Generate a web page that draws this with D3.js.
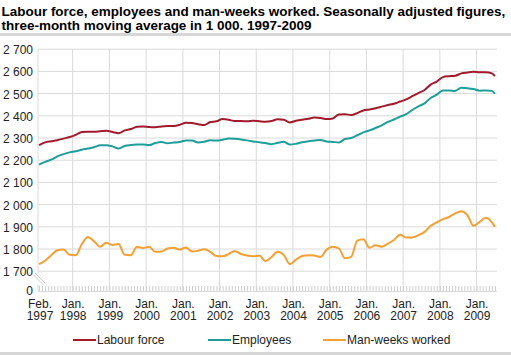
<!DOCTYPE html>
<html>
<head>
<meta charset="utf-8">
<script src="https://cdn.jsdelivr.net/npm/d3@7"></script>
<style>
  html, body { margin: 0; padding: 0; background: #fff; }
  svg, svg text { font-family: Arial, "Liberation Sans", Helvetica, sans-serif; }
  svg { display: block; }
</style>
</head>
<body>
<svg id="chart" width="511" height="355"></svg>
<script>
// ---------- DATA ----------
const titleLines = [
  "Labour force, employees and man-weeks worked. Seasonally adjusted figures,",
  "three-month moving average in 1 000. 1997-2009"
];
const months = [
  "1997-02","1997-04","1997-06","1997-08","1997-10","1997-12",
  "1998-02","1998-04","1998-06","1998-08","1998-10","1998-12",
  "1999-02","1999-04","1999-06","1999-08","1999-10","1999-12",
  "2000-02","2000-04","2000-06","2000-08","2000-10","2000-12",
  "2001-02","2001-04","2001-06","2001-08","2001-10","2001-12",
  "2002-02","2002-04","2002-06","2002-08","2002-10","2002-12",
  "2003-02","2003-04","2003-06","2003-08","2003-10","2003-12",
  "2004-02","2004-04","2004-06","2004-08","2004-10","2004-12",
  "2005-02","2005-04","2005-06","2005-08","2005-10","2005-12",
  "2006-02","2006-04","2006-06","2006-08","2006-10","2006-12",
  "2007-02","2007-04","2007-06","2007-08","2007-10","2007-12",
  "2008-02","2008-04","2008-06","2008-08","2008-10","2008-12",
  "2009-02","2009-04","2009-06","2009-07"
];
const labourForce = [
  2266,2278,2283,2288,2295,2302,
  2312,2325,2326,2326,2328,2330,
  2325,2319,2332,2338,2348,2350,
  2347,2346,2350,2352,2352,2357,
  2366,2365,2360,2356,2370,2373,
  2383,2380,2374,2374,2373,2375,
  2373,2371,2374,2382,2380,2368,
  2375,2380,2384,2390,2388,2383,
  2386,2404,2405,2401,2410,2422,
  2426,2432,2439,2446,2452,2462,
  2472,2486,2500,2514,2538,2552,
  2572,2576,2578,2589,2593,2596,
  2594,2594,2589,2576
];
const employees = [
  2178,2190,2200,2215,2225,2233,
  2238,2245,2250,2256,2265,2265,
  2260,2251,2262,2266,2268,2268,
  2266,2275,2280,2274,2277,2280,
  2287,2286,2278,2281,2288,2286,
  2290,2296,2294,2291,2287,2282,
  2279,2275,2270,2276,2281,2268,
  2272,2279,2283,2286,2289,2282,
  2280,2278,2293,2298,2310,2323,
  2332,2343,2355,2370,2381,2394,
  2405,2424,2440,2454,2478,2493,
  2512,2512,2510,2524,2522,2518,
  2511,2512,2510,2497
];
const manWeeks = [
  1730,1745,1770,1792,1796,1772,
  1770,1820,1852,1832,1808,1826,
  1816,1820,1772,1770,1808,1802,
  1808,1785,1786,1800,1803,1795,
  1805,1786,1790,1797,1785,1766,
  1765,1775,1789,1775,1768,1765,
  1768,1743,1762,1785,1770,1729,
  1750,1766,1770,1768,1762,1795,
  1808,1800,1756,1762,1835,1842,
  1803,1815,1808,1822,1838,1862,
  1850,1850,1860,1875,1902,1918,
  1932,1942,1958,1968,1950,1902,
  1920,1938,1918,1898
];
const seriesNames = ["Labour force", "Employees", "Man-weeks worked"];
const seriesColors = ["#a21a2c", "#1e9e98", "#f5a033"];
const yTicks = [1700,1800,1900,2000,2100,2200,2300,2400,2500,2600,2700];
const xTickMonths = ["1997-02","1998-01","1999-01","2000-01","2001-01","2002-01","2003-01","2004-01","2005-01","2006-01","2007-01","2008-01","2009-01"];
const xTickLabels = [["Feb.","1997"],["Jan.","1998"],["Jan.","1999"],["Jan.","2000"],["Jan.","2001"],["Jan.","2002"],["Jan.","2003"],["Jan.","2004"],["Jan.","2005"],["Jan.","2006"],["Jan.","2007"],["Jan.","2008"],["Jan.","2009"]];

// ---------- LAYOUT ----------
const FONT = "Arial, 'Liberation Sans', Helvetica, sans-serif";
const svg = d3.select("#chart");
const plotLeft = 38, plotRight = 497, plotTop = 48.7, yBottomVal = 270.7, zeroY = 291;
const monthIndex = s => { const [yy, mm] = s.split("-").map(Number); return (yy - 1997) * 12 + (mm - 2); };

const x = d3.scaleLinear().domain([0, 149]).range([39, 39 + 149 * 3.06]);
const y = d3.scaleLinear().domain([1700, 2700]).range([yBottomVal, plotTop]);
const loc = d3.formatLocale({decimal: ",", thousands: " ", grouping: [3], currency: ["", ""]});
const fmt = loc.format(",");

// Title (fit first line to the reference width)
const title = svg.append("text").attr("x", 1.5).attr("fill", "#000").attr("font-family", FONT)
  .style("font-size", "14px").style("font-weight", "bold");
const tsp = titleLines.map((t, i) => title.append("tspan").attr("x", 1.5).attr("y", 15.5 + i * 14.5).text(t));
const w0 = tsp[0].node().getComputedTextLength();
if (w0 > 0) title.style("font-size", Math.min(14, 14 * 504 / w0).toFixed(2) + "px");
svg.append("rect").attr("x", 0).attr("y", 33).attr("width", 511).attr("height", 3).attr("fill", "#d6d6d6");
svg.append("rect").attr("x", 0).attr("y", 352).attr("width", 511).attr("height", 3).attr("fill", "#d6d6d6");

// Y gridlines + labels
const yAxis = d3.axisLeft(y).tickValues(yTicks).tickSize(-(plotRight - plotLeft)).tickPadding(5).tickFormat(fmt);
const gy = svg.append("g").attr("transform", `translate(${plotLeft},0)`).call(yAxis);
gy.attr("font-family", FONT);
gy.select(".domain").remove();
gy.selectAll(".tick line").attr("stroke", "#dadada").attr("stroke-width", 1);
gy.selectAll(".tick text").attr("fill", "#222").attr("dy", "0.42em").style("font-size", "12px");

// vertical gridlines at year ticks
const jan = xTickMonths.slice(1).map(monthIndex);
svg.append("g").selectAll("line").data(jan).join("line")
  .attr("x1", d => x(d)).attr("x2", d => x(d))
  .attr("y1", plotTop).attr("y2", zeroY)
  .attr("stroke", "#dadada").attr("stroke-width", 1);

// Y axis line with break
svg.append("line").attr("x1", plotLeft).attr("x2", plotLeft).attr("y1", plotTop).attr("y2", 273.5).attr("stroke", "#dadada");
svg.append("line").attr("x1", plotLeft).attr("x2", plotLeft).attr("y1", 284.5).attr("y2", zeroY).attr("stroke", "#dadada");
svg.append("line").attr("x1", 33).attr("y1", 274.5).attr("x2", 43).attr("y2", 284.5).attr("stroke", "#cfcfcf");
svg.append("line").attr("x1", 35).attr("y1", 273).attr("x2", 45).attr("y2", 283).attr("stroke", "#cfcfcf");
svg.append("text").attr("x", 33).attr("y", zeroY + 3.5).attr("text-anchor", "end").attr("fill", "#222")
  .attr("font-family", FONT).style("font-size", "12px").text("0");

// X axis: monthly minor ticks
const allMonths = d3.range(0, 150);
const xAxis = d3.axisBottom(x).tickValues(allMonths).tickSize(-5).tickFormat("");
const gx = svg.append("g").attr("transform", `translate(0,${zeroY})`).call(xAxis);
gx.select(".domain").attr("d", `M${plotLeft},0.5H${plotRight}`).attr("stroke", "#dadada");
gx.selectAll(".tick line").attr("stroke", "#cfcfcf");

// X labels
const xl = svg.append("g").selectAll("text").data(xTickMonths).join("text")
  .attr("text-anchor", "middle").attr("fill", "#222").attr("font-family", FONT).style("font-size", "12px");
xl.each(function(d, i) {
  const t = d3.select(this);
  const xp = x(monthIndex(d)) + (i === 0 ? 1 : 0.5);
  t.append("tspan").attr("x", xp).attr("y", 307.5).text(xTickLabels[i][0]);
  t.append("tspan").attr("x", xp).attr("y", 320).text(xTickLabels[i][1]);
});

// Lines
const allSeries = [labourForce, employees, manWeeks];
const line = d3.line().x((d, i) => x(monthIndex(months[i]))).y(d => y(d)).curve(d3.curveMonotoneX);
allSeries.forEach((s, k) => {
  svg.append("path").datum(s).attr("d", line).attr("fill", "none")
    .attr("stroke", seriesColors[k]).attr("stroke-width", 2).attr("stroke-linejoin", "round");
});

// Legend
const legendX = [73, 208, 323];
seriesNames.forEach((n, k) => {
  const g = svg.append("g");
  g.append("line").attr("x1", legendX[k]).attr("x2", legendX[k] + 23).attr("y1", 340).attr("y2", 340)
    .attr("stroke", seriesColors[k]).attr("stroke-width", 2);
  g.append("text").attr("x", legendX[k] + 24).attr("y", 344).attr("fill", "#222")
    .attr("font-family", FONT).style("font-size", "12px").text(n);
});
</script>
</body>
</html>
